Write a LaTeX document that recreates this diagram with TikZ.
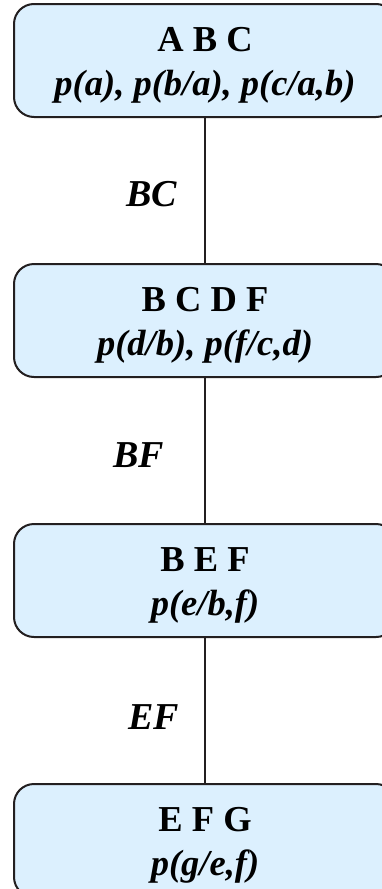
\documentclass[tikz,border=0pt]{standalone}
\usepackage{fontspec}
\setmainfont{Liberation Serif}
\usetikzlibrary{positioning}

\definecolor{cliquefill}{RGB}{220,240,254}
\definecolor{inkline}{RGB}{35,31,32}

% first line of a clique box, with a little extra head room
\newcommand{\cliquehead}[1]{\rule{0pt}{33pt}#1}

\begin{document}
\begin{tikzpicture}[
  x=1pt, y=1pt,
  node distance=145pt,
  clique/.style={draw=inkline, line width=2pt, rounded corners=20pt, fill=cliquefill,
    minimum width=382pt, minimum height=113pt, inner sep=0pt, align=center,
    font=\fontsize{36.5}{44}\selectfont\bfseries},
  sepset/.style={font=\fontsize{38}{40}\selectfont\bfseries\itshape, inner sep=0pt},
  link/.style={draw=inkline, line width=2pt}
]
\useasboundingbox (0,0) rectangle (381,-889);

% cliques of the junction tree
\node[clique] (abc) at (205,-60.5) {\cliquehead{A B C}\\ \itshape p(a), p(b/a), p(c/a,b)};
\node[clique, below=of abc] (bcdf) {\cliquehead{B C D F}\\ \itshape p(d/b), p(f/c,d)};
\node[clique, below=of bcdf] (bef) {\cliquehead{B E F}\\ \itshape p(e/b,f)};
\node[clique, below=of bef] (efg) {\cliquehead{E F G}\\ \itshape p(g/e,f)};

% separators
\draw[link] (abc) -- (bcdf) node[midway, sepset, left=27pt, yshift=-4pt] {BC};
\draw[link] (bcdf) -- (bef) node[midway, sepset, left=40pt, yshift=-5pt] {BF};
\draw[link] (bef) -- (efg) node[midway, sepset, left=25pt, yshift=-7pt] {EF};

\end{tikzpicture}
\end{document}
